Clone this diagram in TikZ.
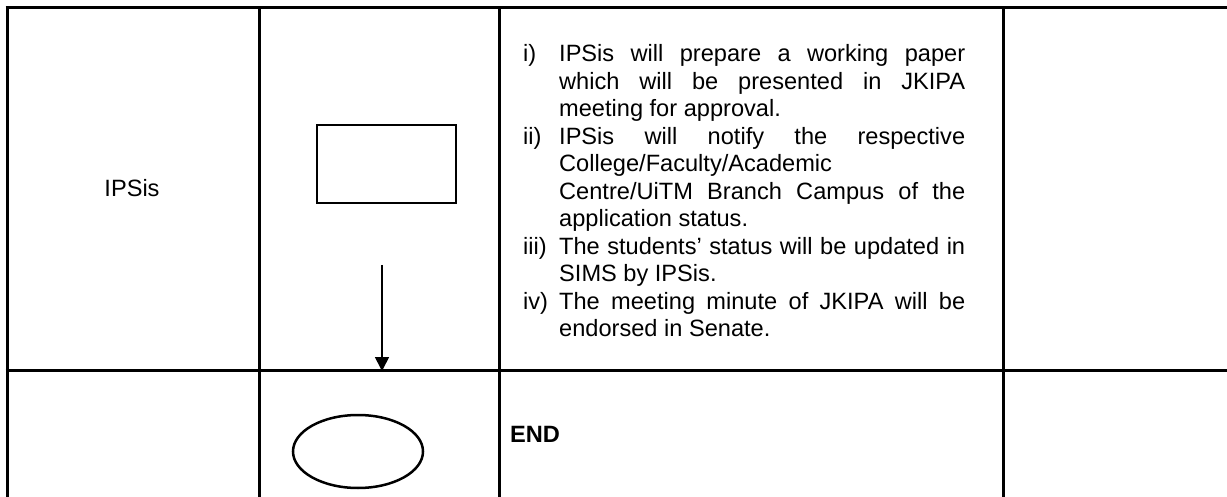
\documentclass[tikz,border=0pt]{standalone}
\usepackage{fontspec}
\setmainfont{Liberation Sans}
\usetikzlibrary{positioning, shapes.geometric, arrows.meta}

\newcommand{\stepline}[2]{\hangindent=36pt\hangafter=1\noindent\makebox[36pt][l]{#1}#2\par}

\begin{document}
\begin{tikzpicture}[x=1pt, y=1pt,
  grid/.style={line width=3pt},
  flowbox/.style={rectangle, draw, line width=2.5pt, minimum width=139pt, minimum height=78pt, inner sep=0pt},
  endbox/.style={ellipse, draw, line width=2.5pt, minimum width=130pt, minimum height=73pt, inner sep=0pt},
  txt/.style={font=\fontsize{23.6pt}{27.5pt}\selectfont, inner sep=0pt},
  arr/.style={-{Triangle[length=14pt, width=14pt]}, line width=1.7pt},
]
  \useasboundingbox (0,0) rectangle (1227,-497);

  % table
  \draw[grid] (5.5,-8) -- (1227,-8);
  \draw[grid] (5.5,-370) -- (1227,-370);
  \draw[grid] (7,-6.5) -- (7,-497);
  \draw[grid] (259,-6.5) -- (259,-497);
  \draw[grid] (499,-6.5) -- (499,-497);
  \draw[grid] (1003,-6.5) -- (1003,-497);

  \node[txt, anchor=base] (actor) at (132,-197) {IPSis};
  \node[flowbox] (paper) at (386.5,-164) {};
  \node[txt, anchor=base west, text width=442pt, align=justify] (steps) at (523,-62) {%
    \tolerance=10000\hbadness=10000\hyphenpenalty=10000
    \stepline{i)}{IPSis will prepare a working paper\linebreak which will be presented in JKIPA\linebreak meeting for approval.}
    \stepline{ii)}{IPSis will notify the respective\linebreak College/Faculty/Academic\newline Centre/UiTM Branch Campus of the\linebreak application status.}
    \stepline{iii)}{The students’ status will be updated in\linebreak SIMS by IPSis.}
    \stepline{iv)}{The meeting minute of JKIPA will be\linebreak endorsed in Senate.}};

  \node[endbox] (finish) at (358,-451.5) {};
  \node[txt, anchor=base west, font=\fontsize{23.6pt}{27.5pt}\selectfont\bfseries] (endlabel) at (510,-442) {END};

  \coordinate (arrtop) at (382,-265);
  \coordinate (arrtip) at (382,-371);
  \draw[arr] (arrtop) -- (arrtip);
\end{tikzpicture}
\end{document}
